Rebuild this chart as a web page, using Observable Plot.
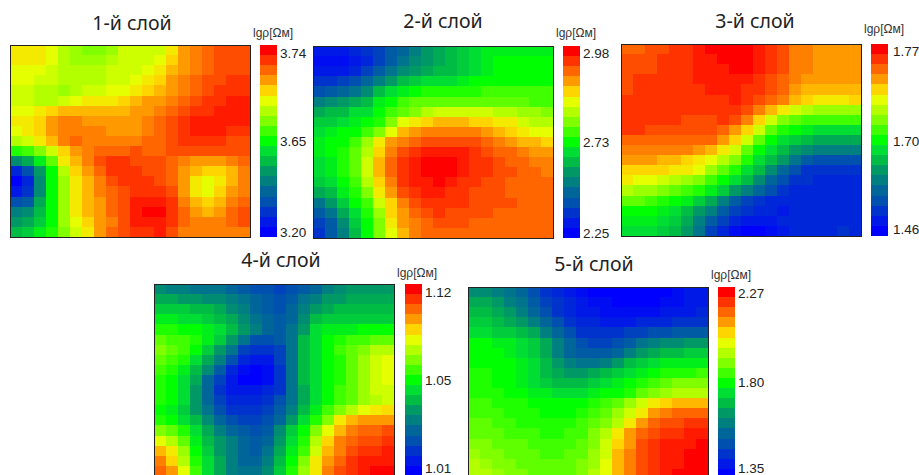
<!DOCTYPE html>
<html><head><meta charset="utf-8">
<script src="https://cdn.jsdelivr.net/npm/d3@7"></script>
<script src="https://cdn.jsdelivr.net/npm/@observablehq/plot@0.6"></script>
<style>
html,body{margin:0;padding:0;background:#fff;overflow:hidden}
#page{position:relative;width:919px;height:475px;overflow:hidden}
#page svg{position:absolute;display:block;background:transparent}
#page svg.map g[aria-label="cell"]{filter:blur(0.7px)}
.t{position:absolute;font-family:"Noto Sans",sans-serif;font-size:19.5px;color:#222;transform:translate(-50%,-50%);white-space:nowrap}
.u{position:absolute;font-family:"Liberation Sans",sans-serif;font-size:12px;color:#333;transform:translateY(-50%);white-space:nowrap}
</style></head><body><div id="page"></div>
<script>
const levels = d3.range(19);
const palette = ["#0000ff","#0019e6","#0033cc","#0050b0","#006699","#007f80","#009966","#00bb44","#00dd33","#00ff00","#40ff00","#80ff00","#b3ff00","#e6ff00","#ffd500","#ff9900","#ff6600","#ff3300","#ff0000"];

const titles = ["1-й слой","2-й слой","3-й слой","4-й слой","5-й слой"];
const unit = "lgρ[Ωм]";
const tickLevels = [18,9,0];
const ticks1 = ["3.74","3.65","3.20"];
const ticks2 = ["2.98","2.73","2.25"];
const ticks3 = ["1.77","1.70","1.46"];
const ticks4 = ["1.12","1.05","1.01"];
const ticks5 = ["2.27","1.80","1.35"];

const layer1 = [
[13.5,13.5,13.5,13,12,11.5,11,11,11.5,12.5,12.5,12.5,12.5,13.5,15,15.5,16,16.5,16.5,16.5],
[13.5,13.5,13.5,13,12,11.5,11.5,11.5,12,12.5,12.5,12.5,13,14,15,15.5,16,16.5,16.5,16.5],
[13,13,13,12.5,12,12,12,12,12.5,12.5,12.5,13,13.5,14.5,15,15.5,16,16.5,16.5,16.5],
[13,13,12.5,12.5,12,12,12,12,12.5,12.5,13,13.5,14,15,15.5,16,16.5,16.5,17,17],
[12.5,12.5,12,12,11.5,12,12.5,12.5,13,13,13.5,14,14.5,15,15.5,16,16.5,17,17,17],
[12.5,12.5,12,12,12.5,13,13.5,13.5,13.5,14,14.5,15,15,15.5,16,16.5,17,17,17.5,17.5],
[13,13,13.5,14,14.5,14.5,14.5,14.5,14.5,14.5,15,15,15.5,16,16.5,17,17,17.5,17.5,17.5],
[13.5,13.5,14,15,15.5,15.5,15,15,15,15,15,15.5,16,16.5,17,17.5,17.5,17.5,17.5,17.5],
[13,13.5,14,15,15.5,15.5,15.5,15.5,15,15,15,15.5,16,16.5,17,17.5,17.5,17.5,17,17],
[12,12.5,13.5,14.5,15.5,16,15.5,15.5,15.5,15.5,15.5,16,16,16.5,17,17,17,17,16.5,16.5],
[9.5,10,11,12.5,14,15,15.5,16,16,16,16.5,16,16,16.5,16.5,16.5,16.5,16.5,16.5,16.5],
[5.5,6.5,8.5,10.5,13.5,14.5,15.5,16.5,17,17,16.5,16.5,16.5,16,15.5,15,15,15,15.5,16],
[1.5,3,6,9,12,14,15,16,17,17,17,16.5,16.5,16,15,14.5,14,14,14.5,15.5],
[0,1.5,5.5,9,11.5,13.5,14.5,15.5,16.5,17,17,17,16.5,16,15,13.5,13,13.5,14.5,15.5],
[1,2,5.5,9,11.5,13.5,14.5,15.5,16,16.5,17,17,17,16.5,15,13.5,13,14,15,15.5],
[3,3.5,6.5,9,11.5,13.5,14.5,15,16,16.5,17.5,17.5,17.5,17,15.5,14.5,14,14.5,15.5,16],
[5,5.5,7,9,11.5,13.5,14.5,15,16,16.5,17.5,18,18,17,16,15,14.5,15,16,16.5],
[6,6.5,7.5,9,11.5,13,14,15,15.5,16.5,17.5,17.5,17.5,17,16,15.5,15.5,15.5,16,16.5],
[7,7.5,8.5,9.5,11,12.5,13.5,15,16,16.5,17,17,17.5,16.5,15.5,15.5,15.5,15.5,15.5,15.5]];

const layer2 = [
[1,1,1,1.5,2,2.5,3.5,4,5,6,6.5,7,7.5,8,8.5,8.5,8.5,8.5,8.5,8.5],
[0.5,0.5,0.5,1,1.5,2.5,3.5,4.5,5.5,6,6.5,7,7.5,8,8.5,9,9,9,9,9],
[1,1,1,1.5,2.5,3.5,4.5,5.5,6,6.5,7,7,7.5,8,8.5,9,9,9,9,9],
[2,2,2.5,3,4,5,6,7,7.5,8,8,8,8.5,9,9,9,9,9,9,9],
[3,3.5,4,4.5,5.5,7,8,8.5,9,9.5,9.5,9.5,9.5,9.5,10,10,10,10,10,10],
[5,5.5,6,6.5,7,8.5,9,10,10.5,10.5,10.5,10.5,10.5,10.5,10.5,10.5,10.5,10.5,10,10],
[6.5,7,7,8,8,9,10,10.5,11,12,12.5,12.5,12.5,12.5,12.5,12,12,11.5,11.5,11],
[7.5,7.5,8,8.5,9,9.5,11,13,13.5,14,14.5,14.5,14.5,14,14,13.5,13.5,12.5,12,12],
[8,8.5,9,9,10,11,13,14.5,15,15.5,15.5,15.5,15.5,15.5,15,14.5,14,13.5,13,13],
[8.5,9,9,10,11.5,13.5,15,15.5,16,16.5,16.5,16.5,16.5,16.5,16,15.5,15,14.5,14.5,14],
[8.5,9,9.5,10.5,12,14,15.5,16.5,17,17.5,17.5,17.5,17.5,17,16.5,16,16,15.5,15,15],
[8,8.5,9.5,10.5,12.5,14.5,16,17,17.5,18,18,18,17.5,17,17,16.5,16,16,15.5,15.5],
[8,8.5,9.5,10.5,12.5,14.5,16,17,17.5,18,18,18,17.5,17,17,16.5,16.5,16,16,15.5],
[7.5,8,9,10,12,14,15.5,17,17.5,17.5,18,17.5,17,17,16.5,16.5,16,16,16,16],
[6.5,7,8.5,9.5,11,13.5,15,16.5,17,17.5,17.5,17,17,16.5,16.5,16.5,16,16,16,16],
[4.5,6,7.5,9,10,12.5,14,15.5,16.5,17,17,17,17,16.5,16.5,16.5,16.5,16,16,16],
[3.5,4.5,6.5,8,9.5,11.5,14,15,16,16.5,17,16.5,16.5,16.5,16.5,16,16,16,16,16],
[2.5,3.5,5.5,7.5,9,11,13.5,15,15.5,16,16.5,16.5,16.5,16,16,16,16,16,16,16],
[2,3.5,5,7,9,11,13,14.5,15.5,16,16,16,16,16,16,16,16,16,16,16]];

const layer3 = [
[16,16,16.5,16.5,17,17,17.5,18,18,18,18,17.5,17,16.5,15.5,15.5,15,15,15,15],
[16.5,16.5,16.5,17,17,17,17.5,17.5,18,18,18,17.5,17,16.5,15.5,15.5,15,15,15,15],
[16.5,16.5,16.5,17,17,17,17.5,17.5,17.5,18,18,17.5,17,16.5,15.5,15.5,15,15,15,15],
[16.5,17,17,17,17,17,17.5,17.5,17.5,17.5,17.5,17,16.5,16,15.5,15,15,15,15,15],
[16.5,17,17,17,17,17,17,17.5,17.5,17.5,17,17,16.5,16,15,14.5,14.5,14.5,14.5,14.5],
[17,17,17,17,17,17,17,17,17,17.5,17,16.5,16,15.5,14.5,14,13.5,13.5,13.5,14],
[17,17,17,17,17,17,17,17,17,17,16.5,15.5,14.5,13.5,12.5,12,11.5,11.5,11.5,11.5],
[17,17,17,17,17,16.5,16.5,16.5,17,16.5,15.5,14,12.5,11,10.5,10,10,10,10,10],
[17,17,16.5,16.5,16.5,16.5,16.5,16.5,16,15,14,12.5,10.5,9.5,9,8.5,8,8,8,8],
[16,16,16,16,16,16,16,16,15,14,12.5,10.5,9,8,7.5,7,6.5,6.5,6.5,6.5],
[15.5,15.5,15.5,15.5,15.5,15.5,15,14.5,13.5,12.5,10.5,9,8,7,6,5.5,5,5,5,5],
[15,15,15,14.5,14.5,14,13.5,13,12,11,9.5,8,7,6,4.5,3.5,3,3,3,3],
[14,14,14,14,13.5,13.5,13,11.5,10.5,9.5,8,7,5.5,4,3,2,2,2,2,2],
[13.5,13,13,12.5,12,11.5,11,10,9,8,7,5.5,4,3,2,2,1.5,1.5,1.5,1.5],
[12,11.5,11.5,11,10.5,10,9.5,8.5,7.5,6,5,4,3,2,1.5,1.5,1.5,1.5,1.5,1.5],
[10.5,10.5,10,9.5,9,8.5,7.5,6.5,5,3.5,2.5,2,1.5,1.5,1.5,1.5,1.5,1.5,1.5,1.5],
[9,9,9,8.5,8,7,6,5,3.5,2.5,2,1.5,1.5,1,1.5,1.5,1.5,1.5,1.5,1.5],
[8.5,8.5,8.5,8,7.5,6.5,5,3.5,2.5,1.5,1,1,1,1.5,1.5,1.5,1.5,1.5,1.5,1.5],
[8,8,8,7.5,7,6,4.5,2.5,1.5,0.5,0,0,0.5,1,1.5,1.5,1.5,1.5,2,1.5]];

const layer4 = [
[5.5,5,5,4.5,4.5,4.5,4,3.5,3,3,2.5,3,3.5,4,5,5.5,6,6,6,6],
[6.5,6.5,6,6,5.5,5.5,5,4.5,4,3.5,3,3.5,4.5,5,6,6,6.5,6.5,6.5,6.5],
[7.5,7.5,7.5,7,7,6.5,5.5,5,4,3.5,3,4,5,6,6.5,7,7,7,7,7],
[8.5,8.5,8,8,7.5,7,6.5,5.5,4.5,4,3.5,4,5.5,7,7.5,7.5,7.5,7.5,7.5,7.5],
[9.5,9.5,9,9,8.5,8,7,6,5,4,3.5,4.5,6,8,8.5,8.5,8.5,9,9,9],
[10.5,10,10,9.5,8.5,7.5,6,4.5,3,3,3.5,4.5,7,8,9,9.5,10,10,10.5,10.5],
[11,10.5,10,9,7.5,6,4.5,2.5,2,2,2.5,4.5,7,8,9,10,10.5,11,12,12],
[10.5,10,9.5,8,6.5,5,3,1.5,1,1,2.5,4.5,7,8,9,9.5,10.5,11.5,12.5,13],
[10,9.5,8.5,7,5.5,3.5,1.5,0.5,0,0.5,2,4.5,7,8,9,9.5,10.5,11.5,12.5,13],
[9.5,9,8,6.5,4,2.5,1,0,0,0.5,2,4.5,7,8,9,9.5,10.5,11.5,12.5,13],
[9.5,9,8,6,4,2,1,1,1,1.5,2,4.5,6.5,8,9,10,10.5,11.5,12.5,12.5],
[9.5,9,8,6,4,2.5,1.5,1.5,1.5,2,3,4.5,6.5,8,9,10,10.5,11.5,12,12.5],
[9,8.5,7.5,6,4.5,3,2,2,2,2.5,3.5,5,7,8.5,10,11,12,13,13.5,13.8],
[9.5,9,8,7,5.5,4,3,2.5,2.5,3,4,6,8,9.5,11,13.5,14.5,15,15,15],
[11,10.5,9.5,8,6.5,5,4,3.5,3,3.5,5.5,7.5,9,11,13,14.5,15.5,16,16,16.5],
[13,12,10.5,8.5,7,6,5,4,3.5,4,6,8,9.5,12,14,15.5,16,16.5,16.5,17],
[14.5,13.5,11.5,9,7.5,6,5,4,3.5,4.5,6.5,8.5,10,12.5,14.5,15.5,16.5,17,17,17.5],
[15.5,14,12,9.5,8,6.5,5,4,4,5,7,9,11,13.5,15,16,17,17.5,17.5,17.5],
[16,15,13,10,8,6.5,5,4.5,4.5,5.5,7.5,9.5,11.5,13.5,15.5,16.5,17,17.5,18,18]];

const layer5 = [
[5.5,5.5,5,4.5,4,3,2,1.5,1,0.5,0,0,0,0,0,0,0,0.5,1,1],
[6.5,6.5,6,5,4.5,3.5,2.5,2,1.5,1,0.5,0.5,0,0,0,0,0.5,0.5,1,1],
[7,7,6.5,6,5,4,3,2,1.5,1,1,0.5,0.5,0.5,0.5,0.5,1,1,1,1.5],
[7.5,7.5,7,6.5,6,5,4,3,2,1.5,1.5,1,1,1,1.5,1.5,1.5,2,2,2],
[8,8,7.5,7.5,7,6.5,5,4,3,2,2,2,2,2.5,2.5,3,3,3.5,3.5,3.5],
[9,9,8.5,8.5,8,7.5,6.5,5,4,3,2.5,2.5,3,3.5,4.5,5,5.5,5.5,6,6],
[9,9,9,8.5,8,7.5,6.5,5,4,3.5,3.5,3.5,4,5,6,6.5,7,7,7.5,7.5],
[9,9,9,9,8.5,8,7,6,5,4.5,4.5,5,6,7,7.5,8,8.5,8.5,8.5,8.5],
[9.5,9.5,9,9,8.5,8,7,6.5,6,6,6.5,7,7.5,8,8.5,9,9.5,9.5,9.5,10],
[9.5,9.5,9,9,8.5,8,7.5,7,7,7,7.5,8,8.5,9,9.5,10,10.5,11,11,11],
[9.5,9.5,9.5,9,9,8.5,8.5,8,8,8,8.5,9,9,9.5,10.5,11,11.5,12,12,12],
[10,10,9.5,9.5,9.5,9,9,9,9,9,9.5,10,10.5,11.5,12.5,13.5,14,14.5,14.5,14.5],
[10,10,10,9.5,9.5,9.5,9,9,9,9.5,10,10.5,11.5,12.5,13.5,15,15.5,16,16,16],
[10.5,10.5,10,10,9.5,9.5,9.5,9.5,9.5,10,10.5,11,12,13.5,15,16,16.5,16.5,17,17],
[10.5,10.5,10.5,10,10,10,9.5,9.5,10,10,11,12,13.5,15,16,16.5,17,17,17.5,17.5],
[11,11,10.5,10.5,10.5,10,10,10,10,10.5,11,12.5,14,15,16.5,17,17.5,17.5,17.5,18],
[11.5,11,11,10.5,10.5,10.5,10,10,10.5,10.5,11.5,12.5,14.5,15.5,16.5,17,17.5,17.5,18,18],
[12,11.5,11,11,10.5,10.5,10.5,10.5,10.5,11,11.5,13,14.5,15.5,16.5,17,17.5,17.5,18,18],
[12,12,11.5,11,11,10.5,10.5,10.5,10.5,11,12,13,14.5,15.5,16.5,17,17.5,18,18,18]];

const layout = [
 {data:layer1,ticks:ticks1,px:10,py:45,bx:260,ldx:11,ldy:[3,0,0],title:[132,22],unit:[253,33]},
 {data:layer2,ticks:ticks2,px:313,py:46,bx:563,ldx:11,ldy:[2,0,0],title:[443,20],unit:[556,33]},
 {data:layer3,ticks:ticks3,px:621,py:44,bx:871,ldx:13,ldy:[2,1,-2],title:[755,20],unit:[864,29]},
 {data:layer4,ticks:ticks4,px:154,py:284,bx:405,ldx:11,ldy:[3,0,-3],title:[281,259],unit:[397,273]},
 {data:layer5,ticks:ticks5,px:468,py:287,bx:718,ldx:11,ldy:[1,-1,-6],title:[594,263],unit:[711,275]}
];
const colorScale = {type:"linear",domain:levels,range:palette};
const page = document.getElementById("page");
function place(el,x,y){el.style.left=x+"px";el.style.top=y+"px";page.appendChild(el);}

layout.forEach((p,i)=>{
  const cells = p.data.flatMap((r,row)=>r.map((v,col)=>({row,col,v})));
  const map = Plot.plot({
    width:242,height:194,margin:1,
    x:{type:"band",domain:d3.range(20),padding:0,round:false,axis:null},
    y:{type:"band",domain:d3.range(19),padding:0,round:false,axis:null},
    color:colorScale,
    marks:[
      Plot.cell(cells,{x:"col",y:"row",fill:"v",shapeRendering:"crispEdges"}),
      Plot.frame({stroke:"#222",strokeWidth:1})
    ]
  });
  map.classList.add("map");
  place(map,p.px-1,p.py-1);
  const bar = Plot.plot({
    width:48,height:194,marginTop:1,marginBottom:1,marginLeft:0,marginRight:31,
    x:{type:"band",domain:["bar"],padding:0,round:false,axis:null},
    y:{type:"band",domain:levels.slice().reverse(),padding:0,round:false,axis:null},
    color:colorScale,
    style:{overflow:"visible"},
    marks:[
      Plot.cell(levels,{x:()=>"bar",y:d=>d,fill:d=>d,shapeRendering:"crispEdges"}),
      ...tickLevels.map((l,k)=>Plot.text([{l,text:p.ticks[k]}],{x:()=>"bar",y:"l",text:"text",dx:p.ldx,dy:p.ldy[k],textAnchor:"start",fontSize:13.5,fontFamily:"Liberation Sans",fill:"#222"}))
    ]
  });
  place(bar,p.bx,p.py-1);
  const t=document.createElement("div");t.className="t";t.textContent=titles[i];place(t,p.title[0],p.title[1]);
  const u=document.createElement("div");u.className="u";u.textContent=unit;place(u,p.unit[0],p.unit[1]);
});
</script></body></html>
